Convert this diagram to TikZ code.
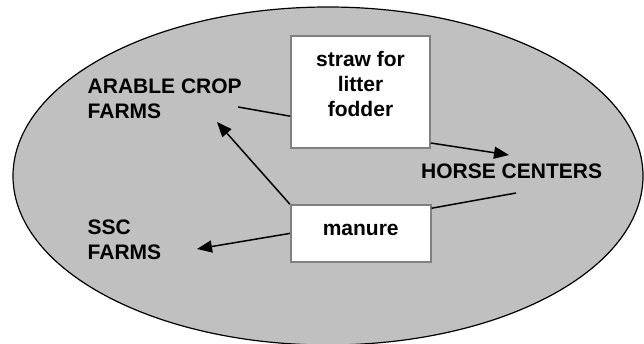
\documentclass[tikz,border=0pt]{standalone}
\usepackage{fontspec}
\setmainfont{Liberation Sans}
\usetikzlibrary{arrows.meta}
\definecolor{areagray}{HTML}{C0C0C0}
\definecolor{boxgray}{HTML}{808080}
\tikzset{
  region/.style={draw=black, line width=1.2pt, fill=areagray},
  flowbox/.style={draw=boxgray, line width=1.6pt, fill=white, inner sep=0pt},
  txt/.style={font=\bfseries\fontsize{21}{25}\selectfont, inner sep=0pt, text=black},
  link/.style={line width=1.5pt, draw=black},
  flow/.style={link, -{Triangle[length=15pt,width=12pt]}}
}
\begin{document}
\begin{tikzpicture}[x=1pt, y=-1pt]
  \useasboundingbox (0,0) rectangle (644,344);
  % the whole exchange area
  \draw[region] (328,176) ellipse [x radius=315pt, y radius=169pt];

  % boxes for the exchanged goods
  \node[flowbox, minimum width=139pt, minimum height=112pt] (straw) at (360.5,92.2) {};
  \node[txt, align=center, anchor=north] (strawtxt) at (360.5,50.6) {straw for\\litter\\fodder};
  \node[flowbox, txt, minimum width=140pt, minimum height=56.7pt,
        text height=12pt, text depth=7pt] (manure) at (360.7,233.4) {manure};

  % partners
  \node[txt, align=left, anchor=north west] (arable) at (87.5,78.3) {ARABLE CROP\\FARMS};
  \node[txt, align=left, anchor=north west] (ssc) at (87.5,219.6) {SSC\\FARMS};
  \node[txt, anchor=base west] (horse) at (421,178.7) {HORSE CENTERS};

  % connector ends next to the partner labels
  \coordinate (arableout) at (238,107);
  \coordinate (arablein) at (217,122);
  \coordinate (sscin) at (197,249);
  \coordinate (horsein) at (509,155);
  \coordinate (horseout) at (516,193);

  % flows
  \draw[link] (arableout) -- ([yshift=-24pt]straw.west);
  \draw[flow] ([yshift=6pt]straw.south east) -- (horsein);
  \draw[link] (horseout) -- ([yshift=-4pt]manure.north east);
  \draw[flow] (manure.north west) -- (arablein);
  \draw[flow] (manure.west) -- (sscin);
\end{tikzpicture}
\end{document}
